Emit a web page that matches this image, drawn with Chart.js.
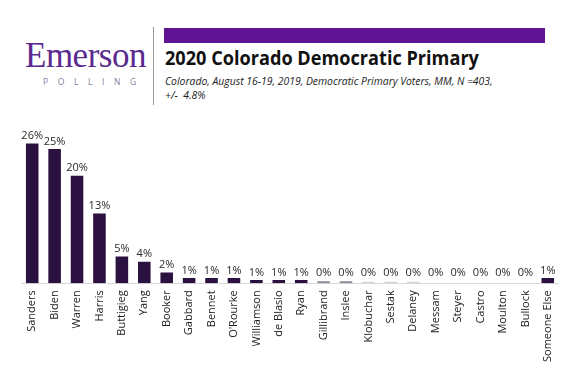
<!DOCTYPE html>
<html>
<head>
<meta charset="utf-8">
<script src="https://cdn.jsdelivr.net/npm/chart.js@4"></script>
<style>
    body { margin: 0; background: #fff; width: 568px; height: 390px; overflow: hidden; font-family: "Open Sans", sans-serif; }
    #logo { position: absolute; left: 25px; top: 36px; font-family: "Liberation Serif", serif; font-size: 35px; color: #5a2a8e; letter-spacing: -0.5px; }
    #polling { position: absolute; left: 43px; top: 76px; font-size: 8.5px; color: #8a7d9c; letter-spacing: 9.6px; }
    #divider { position: absolute; left: 153px; top: 27px; width: 1px; height: 78px; background: #999; }
    #topbar { position: absolute; left: 164px; top: 28px; width: 381px; height: 15px; background: #5f1493; }
    #title { position: absolute; left: 165px; top: 44px; font-weight: bold; font-size: 19.5px; color: #111; transform: scaleX(0.93); transform-origin: left; white-space: nowrap; }
    #sub { position: absolute; left: 165px; top: 74px; font-size: 10.4px; font-style: italic; color: #222; line-height: 14px; white-space: nowrap; }
    #wrap { position: absolute; left: 0; top: 110px; width: 568px; height: 259px; }
</style>
</head>
<body>
<div id="logo">Emerson</div>
<div id="polling">POLLING</div>
<div id="divider"></div>
<div id="topbar"></div>
<div id="title">2020 Colorado Democratic Primary</div>
<div id="sub">Colorado, August 16-19, 2019, Democratic Primary Voters, MM, N =403,<br>+/-&nbsp; 4.8%</div>
<div id="wrap"><canvas id="chart"></canvas></div>
<script>
const candidates = ["Sanders", "Biden", "Warren", "Harris", "Buttigieg", "Yang", "Booker", "Gabbard", "Bennet",
    "O'Rourke", "Williamson", "de Blasio", "Ryan", "Gillibrand", "Inslee", "Klobuchar", "Sestak", "Delaney",
    "Messam", "Steyer", "Castro", "Moulton", "Bullock", "Someone Else"];
// bar heights as drawn (some of the 0% entries still show a hairline)
const support = [26, 25, 20, 13, 5, 4, 2, 1, 1, 1, 0.6, 0.6, 0.6, 0.4, 0.4, 0.3, 0.3, 0.3, 0, 0, 0, 0, 0, 1];
const labels = ["26%", "25%", "20%", "13%", "5%", "4%", "2%", "1%", "1%", "1%", "1%", "1%", "1%", "0%", "0%",
    "0%", "0%", "0%", "0%", "0%", "0%", "0%", "0%", "1%"];

const barColors = support.map((v, i) => {
    if (i >= 13 && i <= 14) return "#8e8a96";
    if (i >= 15 && i <= 17) return "#d6d4da";
    return "#2a1140";
});

const valueLabels = {
    id: "valueLabels",
    afterDatasetsDraw(chart) {
        const ctx = chart.ctx;
        const meta = chart.getDatasetMeta(0);
        ctx.save();
        ctx.font = "11px 'Open Sans', sans-serif";
        ctx.fillStyle = "#2a2a2a";
        ctx.textAlign = "center";
        ctx.textBaseline = "bottom";
        meta.data.forEach((bar, i) => {
            const y = Math.min(bar.y, chart.scales.y.getPixelForValue(0.6));
            ctx.fillText(labels[i], bar.x, y - 2);
        });
        ctx.restore();
    }
};

new Chart(document.getElementById("chart"), {
    type: "bar",
    data: {
        labels: candidates,
        datasets: [{
            data: support,
            backgroundColor: barColors,
            categoryPercentage: 1,
            barPercentage: 0.56
        }]
    },
    options: {
        responsive: true,
        maintainAspectRatio: false,
        animation: false,
        layout: { padding: { left: 21, right: 1, top: 12, bottom: 0 } },
        scales: {
            x: {
                grid: { display: false, drawTicks: false },
                border: { color: "#d8d8d8" },
                ticks: {
                    color: "#222",
                    font: { family: "Open Sans", size: 11 },
                    maxRotation: 90,
                    minRotation: 90,
                    autoSkip: false,
                    padding: 7
                }
            },
            y: { display: false, min: 0, max: 30 }
        },
        plugins: { legend: { display: false }, tooltip: { enabled: false } }
    },
    plugins: [valueLabels]
});
</script>
</body>
</html>
